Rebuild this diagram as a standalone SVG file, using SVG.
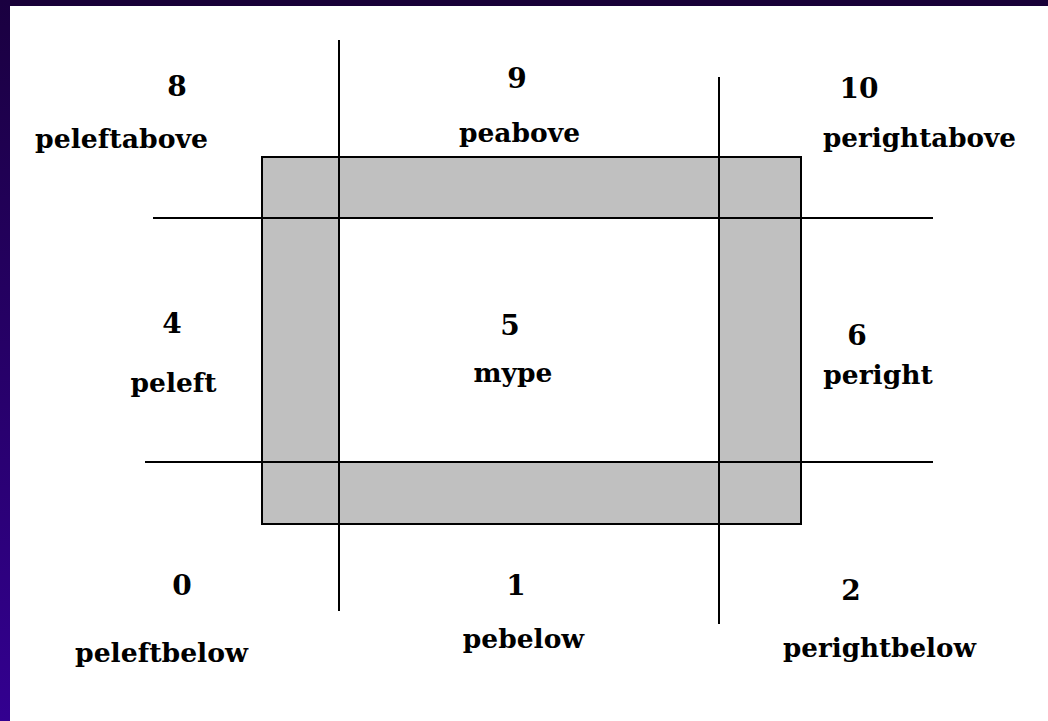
<svg xmlns="http://www.w3.org/2000/svg" width="1048" height="721" viewBox="0 0 1048 721">
<defs>
<linearGradient id="side" x1="0" y1="0" x2="0" y2="1">
<stop offset="0" stop-color="#1a0040"/>
<stop offset="1" stop-color="#330090"/>
</linearGradient>
</defs>
<style>
.ln{stroke:#000;stroke-width:2;fill:none}
.num{font-family:"DejaVu Serif","Liberation Serif",serif;font-weight:bold;font-size:28px;fill:#000;text-anchor:middle}
.lbl{font-family:"DejaVu Serif","Liberation Serif",serif;font-weight:bold;font-size:26.5px;fill:#000;text-anchor:middle}
</style>
<rect x="0" y="0" width="1048" height="721" fill="#fff"/>
<rect x="0" y="0" width="1048" height="6" fill="#180038"/>
<rect x="0" y="0" width="10" height="721" fill="url(#side)"/>
<g id="frame">
<rect x="262" y="157" width="539" height="367" fill="#c0c0c0" stroke="#000" stroke-width="2"/>
<rect x="339" y="218" width="380" height="244" fill="#fff"/>
</g>
<g id="connectors">
<line class="ln" x1="339" y1="40" x2="339" y2="611"/>
<line class="ln" x1="719" y1="77" x2="719" y2="624"/>
<line class="ln" x1="153" y1="218" x2="933" y2="218"/>
<line class="ln" x1="145" y1="462" x2="933" y2="462"/>
</g>
<g id="region8"><text class="num" x="177" y="96">8</text><text class="lbl" x="121.5" y="148" textLength="173" lengthAdjust="spacingAndGlyphs">peleftabove</text></g>
<g id="region9"><text class="num" x="517" y="88">9</text><text class="lbl" x="519.5" y="142">peabove</text></g>
<g id="region10"><text class="num" x="859" y="98">10</text><text class="lbl" x="919.5" y="147" textLength="193" lengthAdjust="spacingAndGlyphs">perightabove</text></g>
<g id="region4"><text class="num" x="172" y="333">4</text><text class="lbl" x="173.5" y="392">peleft</text></g>
<g id="region5"><text class="num" x="510" y="335">5</text><text class="lbl" x="513" y="382">mype</text></g>
<g id="region6"><text class="num" x="857" y="345">6</text><text class="lbl" x="878" y="384">peright</text></g>
<g id="region0"><text class="num" x="182" y="595">0</text><text class="lbl" x="161.5" y="662" textLength="173" lengthAdjust="spacingAndGlyphs">peleftbelow</text></g>
<g id="region1"><text class="num" x="516" y="595">1</text><text class="lbl" x="523.5" y="648">pebelow</text></g>
<g id="region2"><text class="num" x="851" y="600">2</text><text class="lbl" x="879.5" y="657" textLength="193" lengthAdjust="spacingAndGlyphs">perightbelow</text></g>
</svg>
